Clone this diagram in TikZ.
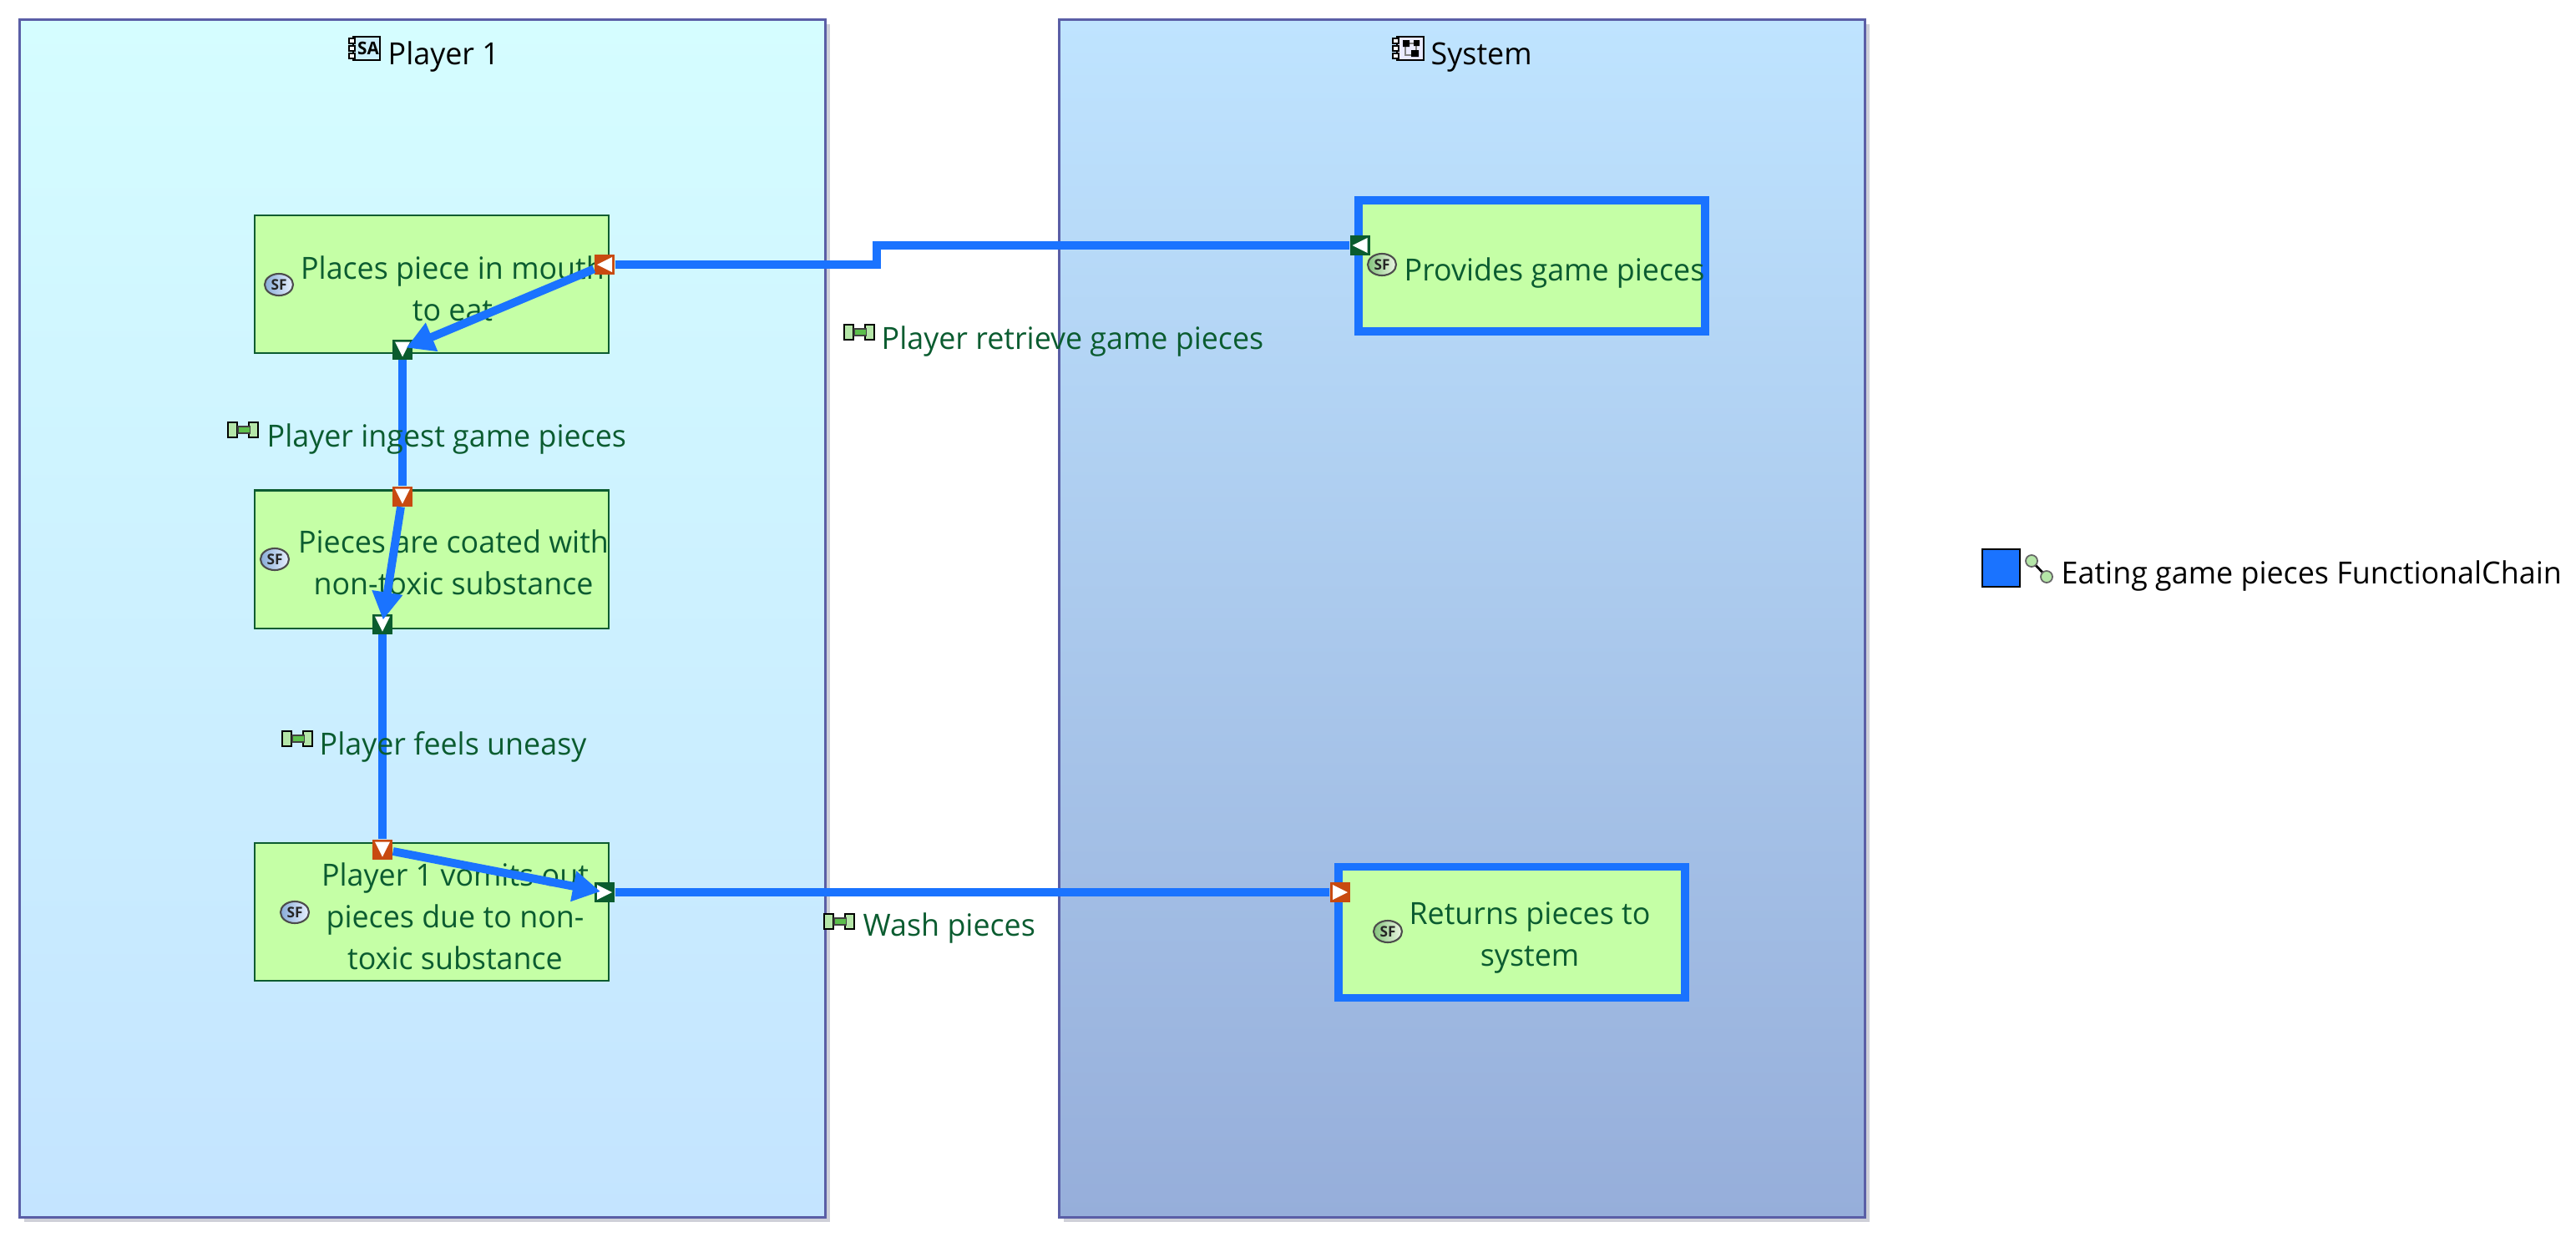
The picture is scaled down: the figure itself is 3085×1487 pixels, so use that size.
\documentclass[tikz,border=0pt]{standalone}
\usepackage{fontspec}
\setmainfont[FakeStretch=0.98]{Open Sans}
\usetikzlibrary{arrows.meta,positioning,shapes.geometric,shadows}
\definecolor{ChainBlue}{HTML}{1A73FF}
\definecolor{FuncFill}{HTML}{C5FFA6}
\definecolor{FuncInk}{HTML}{0B5C30}
\definecolor{PortOut}{HTML}{C84A10}
\definecolor{PortIn}{HTML}{0A5C2E}
\definecolor{FrameInk}{HTML}{5A5EA6}
\definecolor{FrameShadow}{HTML}{CFD0D8}
\definecolor{PlayerTop}{HTML}{D5FDFF}
\definecolor{PlayerBottom}{HTML}{C4E4FF}
\definecolor{SystemTop}{HTML}{BFE4FF}
\definecolor{SystemBottom}{HTML}{96AEDA}
\definecolor{SfBlueL}{HTML}{88ACD8}
\definecolor{SfBlueR}{HTML}{E8F0FF}
\definecolor{SfGreenL}{HTML}{84C47C}
\definecolor{SfGreenR}{HTML}{ECF6E4}
\definecolor{LinkFill}{HTML}{B5E6A8}
\definecolor{LinkBar}{HTML}{5CBF4C}
\tikzset{
  frame/.style={rectangle,draw=FrameInk,line width=0.85pt,inner sep=0pt,minimum width=9.64cm,minimum height=14.34cm,
    drop shadow={shadow xshift=0.055cm,shadow yshift=-0.055cm,fill=FrameShadow,opacity=1}},
  funcbox/.style={rectangle,draw=FuncInk,fill=FuncFill,line width=0.6pt,inner sep=0pt,minimum width=4.24cm,minimum height=1.65cm},
  chainbox/.style={rectangle,draw=ChainBlue,fill=FuncFill,line width=2.8pt,inner sep=0pt,minimum width=4.15cm,minimum height=1.57cm},
  bodytext/.style={inner sep=0pt,font=\fontsize{10.4}{14.2}\selectfont},
  functext/.style={bodytext,text=FuncInk,align=center},
  linktext/.style={bodytext,text=FuncInk,anchor=base west},
  blacktext/.style={bodytext,text=black,anchor=base west},
  portout/.style={rectangle,fill=PortOut,inner sep=0pt,minimum size=0.24cm},
  portin/.style={rectangle,fill=PortIn,inner sep=0pt,minimum size=0.24cm},
  chainline/.style={draw=ChainBlue,line width=2.8pt},
  chainarrow/.style={chainline,-{Triangle[length=3.3mm,width=3.5mm]},shorten >=0.05cm},
  sficon/.style={ellipse,draw=black!70,line width=0.6pt,inner sep=0pt,minimum width=0.34cm,minimum height=0.26cm,
    text=black!85,font=\fontsize{5}{5}\selectfont\bfseries},
  sfblue/.style={sficon,left color=SfBlueL,right color=SfBlueR},
  sfgreen/.style={sficon,left color=SfGreenL,right color=SfGreenR}
}
\newcommand{\portmark}[2]{\fill[white,shift={(#1)},rotate=#2] (9,0) -- (-9,-9) -- (-9,9) -- cycle;}
\newcommand{\linkicon}[2]{%
\begin{scope}[shift={(#1,#2)}]
\draw[black,fill=LinkFill,line width=0.7pt] (-18,-9) rectangle (-7,9);
\draw[black,fill=LinkFill,line width=0.7pt] (7,-9) rectangle (18,9);
\fill[black!75] (-7,-5) rectangle (9,5);
\fill[LinkBar] (-5,-3) rectangle (8,3);
\end{scope}}
\newcommand{\compports}[2]{%
\begin{scope}[shift={(#1,#2)}]
\foreach \py in {-9,0,9} \draw[black,fill=white,line width=0.5pt] (-19,\py-3) rectangle (-12,\py+3);
\end{scope}}

\begin{document}
\begin{tikzpicture}[x=0.01cm,y=-0.01cm]
\useasboundingbox (0,0) rectangle (3085,1487);
% containers
\node[frame,top color=PlayerTop,bottom color=PlayerBottom] (player) at (506,741) {};
\node[frame,top color=SystemTop,bottom color=SystemBottom] (system) at (1751,741) {};
\draw[black,fill=cyan!20,line width=0.7pt] (423,44) rectangle (455,72);
\compports{437}{58}
\node[inner sep=0pt,font=\fontsize{6}{6}\selectfont\bfseries] (saicon) at (441,58) {SA};
\node[blacktext] (playertitle) at (464,77) {Player 1};
\draw[black,fill=blue!8,line width=0.7pt] (1673,44) rectangle (1705,72);
\compports{1687}{58}
\draw[black!50,line width=0.6pt] (1683,52) rectangle (1696,66);
\fill[black] (1680,48) rectangle (1688,56) (1693,48) rectangle (1700,55) (1690,60) rectangle (1699,68);
\node[blacktext] (systemtitle) at (1713,77) {System};
% functions
\node[funcbox] (places) at (517,340.5) {};
\node[funcbox] (coated) at (517,670) {};
\node[funcbox] (vomits) at (517,1092.5) {};
\node[chainbox] (provides) at (1834.5,318.5) {};
\node[chainbox] (returns) at (1810.5,1117) {};
\node[sfblue] (sfplaces) at (334,341) {SF};
\node[sfblue] (sfcoated) at (329,670) {SF};
\node[sfblue] (sfvomits) at (353,1093) {SF};
\node[sfgreen] (sfprovides) at (1655,317) {SF};
\node[sfgreen] (sfreturns) at (1662,1116) {SF};
\node[functext] (placestext) at (542,346) {Places piece in mouth\\to eat};
\node[functext] (coatedtext) at (543,674) {Pieces are coated with\\non-toxic substance};
\node[functext] (vomitstext) at (545,1098) {Player 1 vomits out\\pieces due to non-\\toxic substance};
\node[linktext] (providestext) at (1681,336) {Provides game pieces};
\node[functext] (returnstext) at (1832,1123) {Returns pieces to\\system};
% ports
\node[portout] (placesout) at (724,317) {};
\node[portin] (placesin) at (482,418.5) {};
\node[portout] (coatedtop) at (482,594.5) {};
\node[portin] (coatedbot) at (458,747.5) {};
\node[portout] (vomitstop) at (458,1017.5) {};
\node[portin] (vomitsright) at (724,1069) {};
\node[portin] (providesin) at (1628.5,294) {};
\node[portout] (returnsin) at (1605,1069) {};
\portmark{placesout}{180}
\portmark{placesin}{-90}
\portmark{coatedtop}{-90}
\portmark{coatedbot}{-90}
\portmark{vomitstop}{-90}
\portmark{vomitsright}{0}
\portmark{providesin}{180}
\portmark{returnsin}{0}
% chain
\coordinate (stepa) at (1050,317);
\coordinate (stepb) at (1050,294);
\draw[chainline] (placesout) -- (stepa) -- (stepb) -- (providesin);
\draw[chainarrow] (placesout) -- (placesin.center);
\draw[chainline] (placesin) -- (coatedtop);
\draw[chainarrow] (coatedtop) -- (coatedbot.center);
\draw[chainline] (coatedbot) -- (vomitstop);
\draw[chainarrow] (vomitstop) -- (vomitsright.center);
\draw[chainline] (vomitsright) -- (returnsin);
% exchange labels
\linkicon{291}{515}
\node[linktext] (ingest) at (319,535) {Player ingest game pieces};
\linkicon{356}{885}
\node[linktext] (uneasy) at (382,904) {Player feels uneasy};
\linkicon{1029}{398}
\node[linktext] (retrieve) at (1055,418) {Player retrieve game pieces};
\linkicon{1005}{1104}
\node[linktext] (wash) at (1033,1121) {Wash pieces};
% legend
\node[rectangle,draw=black,fill=ChainBlue,line width=0.8pt,inner sep=0pt,minimum size=0.45cm] (legendkey) at (2396.5,680.5) {};
\draw[black,line width=0.8pt] (2433,672) -- (2451,691);
\node[circle,draw=black!60,fill=LinkFill,line width=0.5pt,inner sep=0pt,minimum size=0.14cm] (chaina) at (2433,672) {};
\node[circle,draw=black!60,fill=LinkFill,line width=0.5pt,inner sep=0pt,minimum size=0.14cm] (chainb) at (2451,691) {};
\node[blacktext] (legendtext) at (2468,699) {Eating game pieces FunctionalChain};
\end{tikzpicture}
\end{document}
